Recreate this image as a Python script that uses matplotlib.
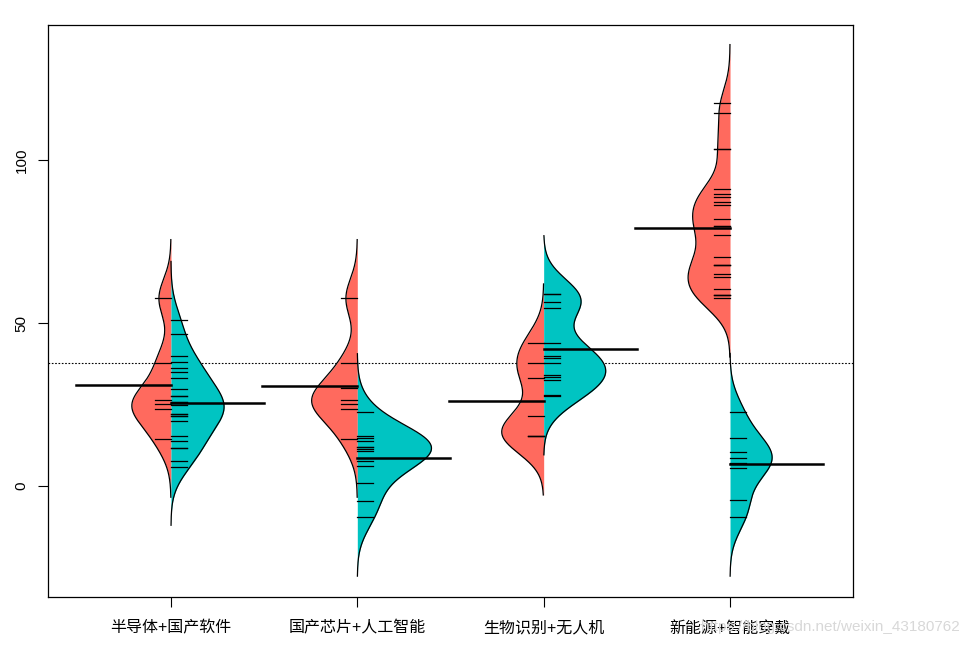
import numpy as np
import matplotlib
matplotlib.use("Agg")
from matplotlib import pyplot as plt

plt.rcParams['font.family'] = ['Liberation Sans', 'Noto Sans CJK SC', 'DejaVu Sans']

# group names
groups = ["半导体+国产软件", "国产芯片+人工智能", "生物识别+无人机", "新能源+智能穿戴"]

# left (red) half of each bean
left_1 = [57.6, 37.9, 26.5, 25.2, 23.6, 14.6]
left_2 = [57.6, 37.9, 30.0, 26.5, 25.2, 23.6, 14.6]
left_3 = [44.0, 37.9, 33.1, 21.5, 15.3, 15.3, 15.3]
left_4 = [117.4, 114.3, 103.5, 103.5, 91.0, 89.6, 88.8, 87.0, 86.2, 81.8,
          79.8, 79.8, 79.1, 77.0, 70.2, 67.9, 67.9, 67.9, 65.2, 64.0,
          60.3, 58.5, 58.5, 58.5, 57.6]

# right (blue) half of each bean
right_1 = [50.9, 46.8, 39.8, 38.2, 36.2, 34.9, 33.1, 29.7, 27.6, 27.6,
           25.9, 25.9, 24.8, 22.1, 22.1, 21.5, 21.5, 19.9, 15.5, 13.8,
           11.8, 11.8, 7.7, 6.0]
right_2 = [22.6, 15.4, 14.8, 13.9, 11.9, 11.9, 11.5, 10.7, 7.8, 6.1, 1.1, -4.7, -9.6]
right_3 = [58.8, 58.8, 56.6, 54.5, 43.8, 40.0, 39.4, 37.9, 34.2, 33.5,
           32.4, 28.1, 27.6]
right_4 = [22.7, 14.9, 10.6, 8.5, 7.0, 5.5, -4.1, -9.6]

left_data = [left_1, left_2, left_3, left_4]
right_data = [right_1, right_2, right_3, right_4]

# widest point of each half bean (x-axis units)
left_width = [0.21, 0.245, 0.225, 0.225]
right_width = [0.285, 0.398, 0.333, 0.226]

red = "#FF6A5E"
blue = "#00C4C2"
bw = 6.0

def kde(vals):
    vals = np.asarray(vals, float)
    y = np.linspace(vals.min() - 3 * bw, vals.max() + 3 * bw, 512)
    d = np.exp(-0.5 * ((y[:, None] - vals[None, :]) / bw) ** 2).sum(1)
    d = d / (len(vals) * bw * np.sqrt(2 * np.pi))
    return y, d

fig = plt.figure(figsize=(9.69, 6.45), dpi=100)
ax = fig.add_axes([0.0495, 0.0744, 0.8308, 0.8868])

# overall mean line
all_vals = np.concatenate([np.asarray(v) for v in left_data + right_data])
ax.axhline(all_vals.mean(), color="black", lw=0.8, ls=(0, (1.5, 1.5)), zorder=1)

for i in range(4):
    pos = i + 1
    y, d = kde(left_data[i])
    w = d / d.max() * left_width[i]
    ax.fill_betweenx(y, pos - w, pos, color=red, lw=0, zorder=2)
    ax.plot(pos - w, y, color="black", lw=0.9, zorder=3)
    y, d = kde(right_data[i])
    w = d / d.max() * right_width[i]
    ax.fill_betweenx(y, pos, pos + w, color=blue, lw=0, zorder=2)
    ax.plot(pos + w, y, color="black", lw=0.9, zorder=3)

    # bean lines
    for v in left_data[i]:
        ax.plot([pos - 0.086, pos], [v, v], color="black", lw=0.9, zorder=4)
    for v in right_data[i]:
        ax.plot([pos, pos + 0.086], [v, v], color="black", lw=0.9, zorder=4)

    # mean lines
    ax.plot([pos - 0.51, pos], [np.mean(left_data[i])] * 2, color="black", lw=1.8, zorder=5)
    ax.plot([pos, pos + 0.5], [np.mean(right_data[i])] * 2, color="black", lw=1.8, zorder=5)

ax.set_xlim(0.34, 4.66)
ax.set_ylim(-34, 141.4)
ax.set_xticks([1, 2, 3, 4])
ax.set_xticklabels(groups, fontsize=11.5)
ax.tick_params(axis="x", length=7, width=0.8, pad=10)
ax.set_yticks([0, 50, 100])
ax.set_yticklabels(["0", "50", "100"], rotation=90, va="center", fontsize=11)
ax.tick_params(axis="y", length=7, width=0.8, pad=7)
for s in ax.spines.values():
    s.set_linewidth(0.9)

fig.text(0.99, 0.028, "https://blog.csdn.net/weixin_43180762", ha="right", va="center",
         fontsize=11, color="#d8d8d8", zorder=0)

fig.savefig("out.png", dpi=100)
